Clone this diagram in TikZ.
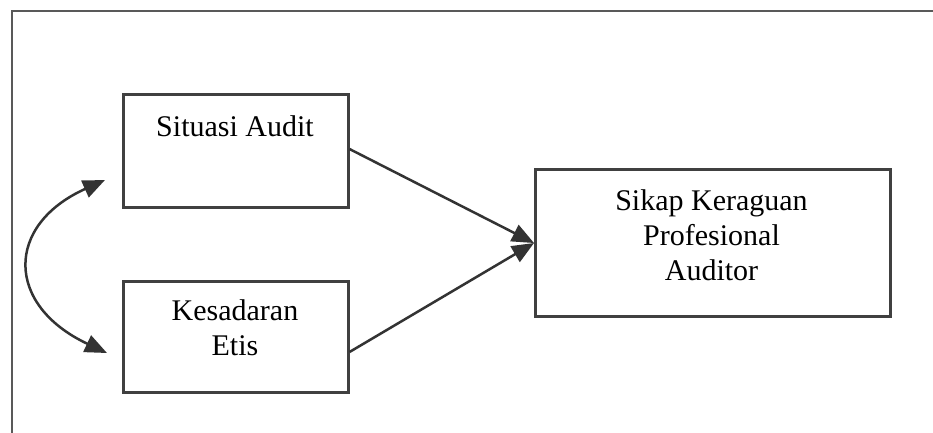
\documentclass[tikz,border=0pt]{standalone}
\usepackage{fontspec}
\setmainfont{Liberation Serif}
\usetikzlibrary{arrows.meta}
\begin{document}
\begin{tikzpicture}[x=1pt,y=-1pt,
  frameline/.style={draw=black!65,line width=2.5pt},
  boxshape/.style={draw=black!75,line width=2.5pt,inner sep=0pt,anchor=north west},
  boxtext/.style={font=\fontsize{30}{35}\selectfont,align=center,inner sep=0pt,anchor=north},
  bighead/.style={-{Triangle[length=22pt,width=18pt]}},
  linkarrow/.style={draw=black!80,line width=2.5pt,bighead},
  bothways/.style={draw=black!80,line width=2.5pt,{Triangle[length=22pt,width=18pt]}-{Triangle[length=22pt,width=18pt]}}
]
\useasboundingbox (0,0) rectangle (933,432);
\fill[white] (0,0) rectangle (933,432);

% outer frame (left and top edges)
\draw[frameline] (12,440) -- (12,11) -- (940,11);

% boxes
\node[boxshape,minimum width=225pt,minimum height=113pt] (sit) at (122,93) {};
\node[boxshape,minimum width=225pt,minimum height=111pt] (kes) at (122,280) {};
\node[boxshape,minimum width=355pt,minimum height=147pt] (sik) at (534,168) {};

% labels
\node[boxtext] (sitlbl) at (235,115.5) {Situasi Audit};
\node[boxtext] (keslbl) at (235,299.5) {Kesadaran\\Etis};
\node[boxtext] (siklbl) at (711.5,189.5) {Sikap Keraguan\\Profesional\\Auditor};

% connectors
\coordinate (sitout) at ([yshift=-56pt]sit.north east);
\coordinate (kesout) at ([yshift=-72pt]kes.north east);
\coordinate (sikin) at ([yshift=-75pt]sik.north west);
\draw[linkarrow] (sitout) -- (sikin);
\draw[linkarrow] (kesout) -- (sikin);

\coordinate (sitleft) at (105,180);
\coordinate (kesleft) at (107,353);
\draw[bothways] (sitleft) .. controls (5,225) and (5,305) .. (kesleft);
\end{tikzpicture}
\end{document}
